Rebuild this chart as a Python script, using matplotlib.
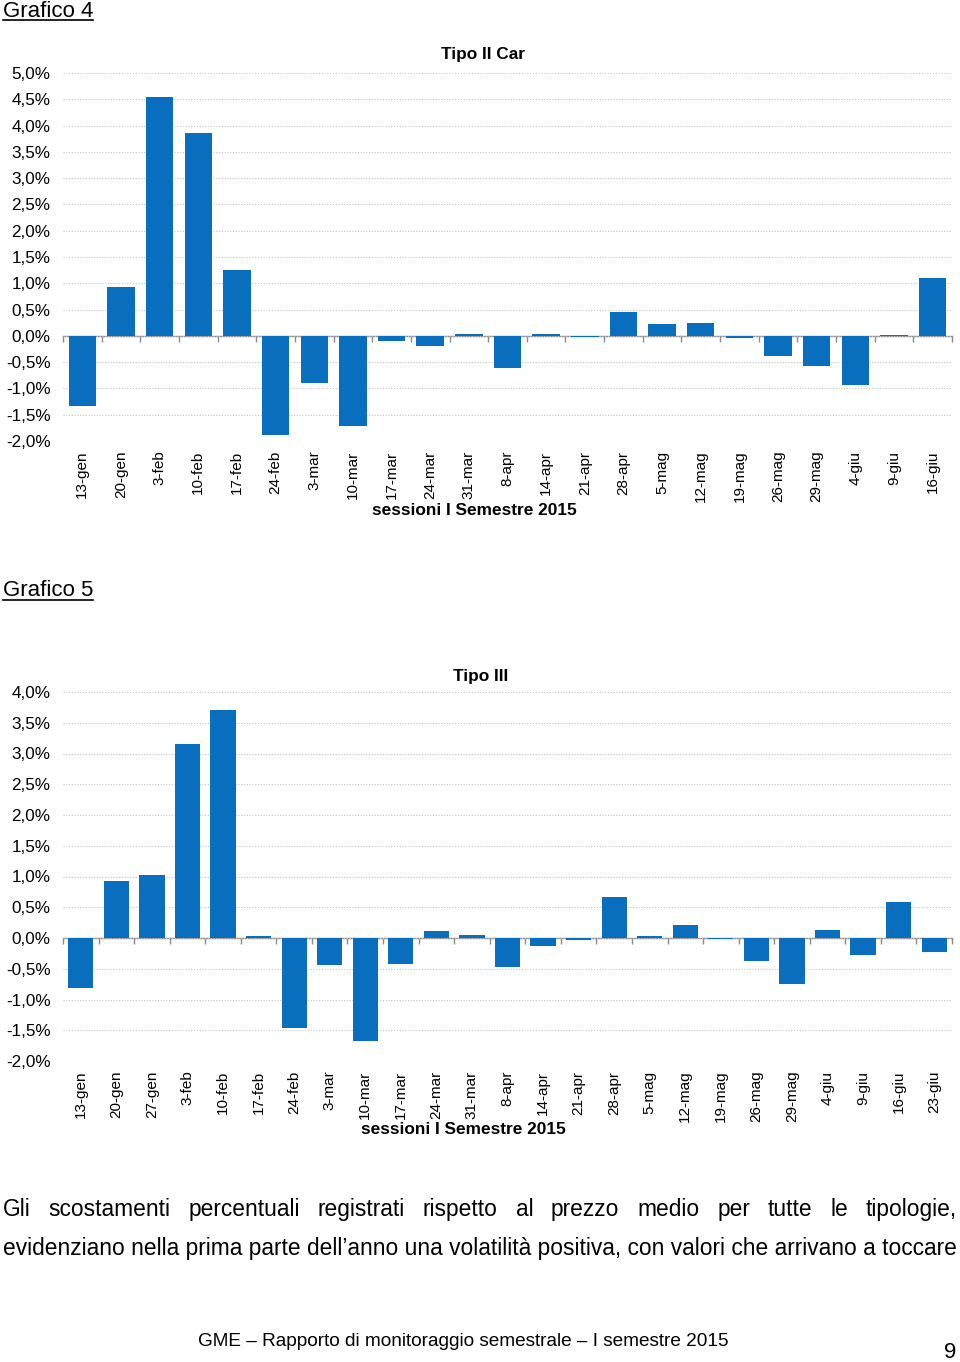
import numpy as np
import matplotlib.pyplot as plt
from matplotlib.lines import Line2D
from matplotlib.ticker import FuncFormatter

plt.rcParams['font.family'] = ['Liberation Sans', 'DejaVu Sans']

### data (percent deviation from mean price)

sess4 = ['13-gen', '20-gen', '3-feb', '10-feb', '17-feb', '24-feb', '3-mar', '10-mar',
         '17-mar', '24-mar', '31-mar', '8-apr', '14-apr', '21-apr', '28-apr', '5-mag',
         '12-mag', '19-mag', '26-mag', '29-mag', '4-giu', '9-giu', '16-giu']
tipo2car = [-1.34, 0.92, 4.55, 3.85, 1.25, -1.89, -0.90, -1.71,
            -0.10, -0.20, 0.04, -0.62, 0.04, -0.03, 0.46, 0.22,
            0.24, -0.04, -0.38, -0.58, -0.94, 0.02, 1.11]

sess5 = ['13-gen', '20-gen', '27-gen', '3-feb', '10-feb', '17-feb', '24-feb', '3-mar',
         '10-mar', '17-mar', '24-mar', '31-mar', '8-apr', '14-apr', '21-apr', '28-apr',
         '5-mag', '12-mag', '19-mag', '26-mag', '29-mag', '4-giu', '9-giu', '16-giu', '23-giu']
tipo3 = [-0.82, 0.92, 1.03, 3.16, 3.70, 0.04, -1.47, -0.44,
         -1.67, -0.42, 0.12, 0.05, -0.47, -0.13, -0.03, 0.66,
         0.03, 0.21, -0.02, -0.38, -0.74, 0.13, -0.28, 0.58, -0.22]

ylim4 = (-2.0, 5.0)
ylim5 = (-2.0, 4.0)

BLUE = '#0A6EBF'
W, H = 960, 1362

fig = plt.figure(figsize=(9.6, 13.62), dpi=100)


def px(x, y):
    # pixel position (from top left) -> figure fraction
    return x / W, 1 - y / H


def pct(v, pos):
    return ('%.1f%%' % v).replace('.', ',')


def bar_chart(rect, cats, vals, ylim):
    ax = fig.add_axes(rect)
    x = np.arange(len(cats))
    ax.bar(x, vals, width=0.71, color=BLUE, zorder=3)
    ax.set_xlim(-0.5, len(cats) - 0.5)
    ax.set_ylim(*ylim)
    ax.set_yticks(np.arange(ylim[0], ylim[1] + 0.01, 0.5))
    ax.yaxis.set_major_formatter(FuncFormatter(pct))
    ax.yaxis.grid(True, linestyle=(0, (1, 1.5)), color='#c4c4c4', linewidth=0.8, zorder=0)
    ax.set_xticks(x)
    ax.set_xticklabels(cats, rotation=90, fontsize=11)
    ax.tick_params(axis='x', length=0, pad=7)
    ax.tick_params(axis='y', length=0, pad=9, labelsize=12.3)
    for s in ax.spines.values():
        s.set_visible(False)
    # zero line with category separators
    zero = (0 - ylim[0]) / (ylim[1] - ylim[0])
    sec = ax.secondary_xaxis(zero)
    sec.set_xticks(np.arange(len(cats) + 1) - 0.5)
    sec.set_xticklabels([])
    sec.tick_params(length=4, width=1, color='#8c8c8c', direction='out')
    for s in sec.spines.values():
        s.set_color('#8c8c8c')
        s.set_linewidth(1)
    return ax


ax1 = bar_chart([63 / W, 1 - 441 / H, 889 / W, 368 / H], sess4, tipo2car, ylim4)
ax2 = bar_chart([63 / W, 1 - 1061 / H, 889 / W, 369 / H], sess5, tipo3, ylim5)

# chart titles and axis captions
fig.text(*px(483, 55), 'Tipo II Car', ha='center', va='center', fontsize=12.4, fontweight='bold')
fig.text(*px(474, 511), 'sessioni I Semestre 2015', ha='center', va='center', fontsize=12.4, fontweight='bold')
fig.text(*px(481, 676), 'Tipo III', ha='center', va='center', fontsize=12.4, fontweight='bold')
fig.text(*px(463, 1130), 'sessioni I Semestre 2015', ha='center', va='center', fontsize=12.4, fontweight='bold')

rend = fig.canvas.get_renderer()


def underlined(x, y, s, size, uy):
    t = fig.text(*px(x, y), s, ha='left', va='baseline', fontsize=size)
    bb = t.get_window_extent(renderer=rend)
    fig.add_artist(Line2D([bb.x0 / W, bb.x1 / W], [1 - uy / H, 1 - uy / H],
                          transform=fig.transFigure, color='black', linewidth=1.2))


underlined(3, 17, 'Grafico 4', 16, 20)
underlined(3, 596, 'Grafico 5', 16, 599.5)

# body text: first line justified, second line natural width
line1 = 'Gli scostamenti percentuali registrati rispetto al prezzo medio per tutte le tipologie,'
line2 = 'evidenziano nella prima parte dell\u2019anno una volatilità positiva, con valori che arrivano a toccare'

probe = fig.text(0, 0, line2, fontsize=15)
w2 = probe.get_window_extent(renderer=rend).width
probe.remove()
body = 15 * 954 / w2

words = line1.split(' ')
widths = []
for wd in words:
    t = fig.text(0, 0, wd, fontsize=body)
    widths.append(t.get_window_extent(renderer=rend).width)
    t.remove()
gap = (954 - sum(widths)) / (len(words) - 1)
xpos = 3
for wd, ww in zip(words, widths):
    fig.text(*px(xpos, 1216), wd, ha='left', va='baseline', fontsize=body)
    xpos += ww + gap

fig.text(*px(3, 1255), line2, ha='left', va='baseline', fontsize=body)

# footer
fig.text(*px(463, 1346), 'GME \u2013 Rapporto di monitoraggio semestrale \u2013 I semestre 2015',
         ha='center', va='baseline', fontsize=13.7)
fig.text(*px(950, 1358), '9', ha='center', va='baseline', fontsize=16)

fig.savefig('out.png', dpi=100)
